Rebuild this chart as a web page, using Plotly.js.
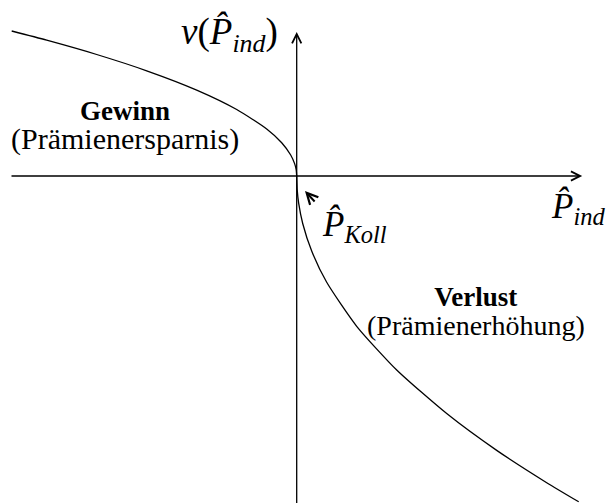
<!DOCTYPE html>
<html>
<head>
<meta charset="utf-8">
<script src="https://cdn.plot.ly/plotly-3.0.1.min.js"></script>
<style>
  html, body { margin: 0; padding: 0; background: #fff; }
  #chart { width: 612px; height: 503px; }
</style>
</head>
<body>
<div id="chart"></div>
<script>
// Value function v(P_ind): gains (premium savings) left of the reference
// premium P_Koll, losses (premium increases) to the right.
const gainX = [-2.85, -2.5, -2.0, -1.5, -1.0, -0.6, -0.3, -0.15, -0.06, -0.02, -0.005, 0];
const gainY = [1.450, 1.358, 1.215, 1.052, 0.859, 0.665, 0.470, 0.333, 0.210, 0.121, 0.061, 0];
const lossX = [0.005, 0.02, 0.06, 0.15, 0.3, 0.6, 1.0, 1.5, 2.0, 2.5, 2.82];
const lossY = [-0.137, -0.274, -0.475, -0.751, -1.063, -1.503, -1.940, -2.376, -2.744, -3.067, -3.258];

const axisLabelX = '<i>P̂</i><sub><i>ind</i></sub>';
const axisLabelY = '<i>v</i>(<i>P̂</i><sub><i>ind</i></sub>)';
const refLabel = '<i>P̂</i><sub><i>Koll</i></sub>';
const gainTitle = 'Gewinn';
const gainNote = '(Prämienersparnis)';
const lossTitle = 'Verlust';
const lossNote = '(Prämienerhöhung)';

const serif = 'Liberation Serif';

const curve = {
  x: gainX.concat(lossX),
  y: gainY.concat(lossY),
  type: 'scatter',
  mode: 'lines',
  line: { color: '#000', width: 1.3, shape: 'spline', smoothing: 0.6 },
  hoverinfo: 'skip'
};

function arrow(x0, y0, x1, y1, head, size, width) {
  return {
    x: x1, y: y1, ax: x0, ay: y0,
    xref: 'x', yref: 'y', axref: 'x', ayref: 'y',
    text: '', showarrow: true,
    arrowhead: head, arrowsize: size, arrowwidth: width || 1.3, arrowcolor: '#000',
    standoff: 0, startstandoff: 0
  };
}

function label(text, x, y, size, xanchor) {
  return {
    x: x, y: y, xref: 'x', yref: 'y', text: text, showarrow: false,
    xanchor: xanchor || 'center', yanchor: 'middle', align: 'center',
    font: { family: serif, size: size, color: '#000' }
  };
}

// Two-line region caption: bold heading over a bracketed note
function caption(title, note, titleSize, noteSize) {
  return '<b><span style="font-size:' + titleSize + 'px">' + title + '</span></b><br>' +
         '<span style="font-size:' + noteSize + 'px">' + note + '</span>';
}

const layout = {
  width: 612, height: 503,
  margin: { l: 0, r: 0, t: 0, b: 0 },
  paper_bgcolor: '#fff', plot_bgcolor: '#fff',
  showlegend: false,
  font: { family: serif },
  xaxis: { range: [-2.967, 3.153], visible: false, fixedrange: true },
  yaxis: { range: [-3.27, 1.76], visible: false, fixedrange: true },
  annotations: [
    // coordinate axes
    arrow(-2.867, 0, 2.855, 0, 5, 1.4),
    arrow(0, -3.3, 0, 1.44, 5, 1.4),
    // pointer to the reference premium
    arrow(0.193, -0.27, 0.083, -0.15, 5, 1.1, 2),
    label(axisLabelY, -0.67, 1.42, 37),
    label(axisLabelX, 2.52, -0.32, 35, 'left'),
    label(refLabel, 0.23, -0.50, 35, 'left'),
    label(caption(gainTitle, gainNote, 27, 30), -1.72, 0.50, 22),
    label(caption(lossTitle, lossNote, 27, 28), 1.793, -1.355, 22)
  ]
};

Plotly.newPlot('chart', [curve], layout, { staticPlot: true, displayModeBar: false });
</script>
</body>
</html>
